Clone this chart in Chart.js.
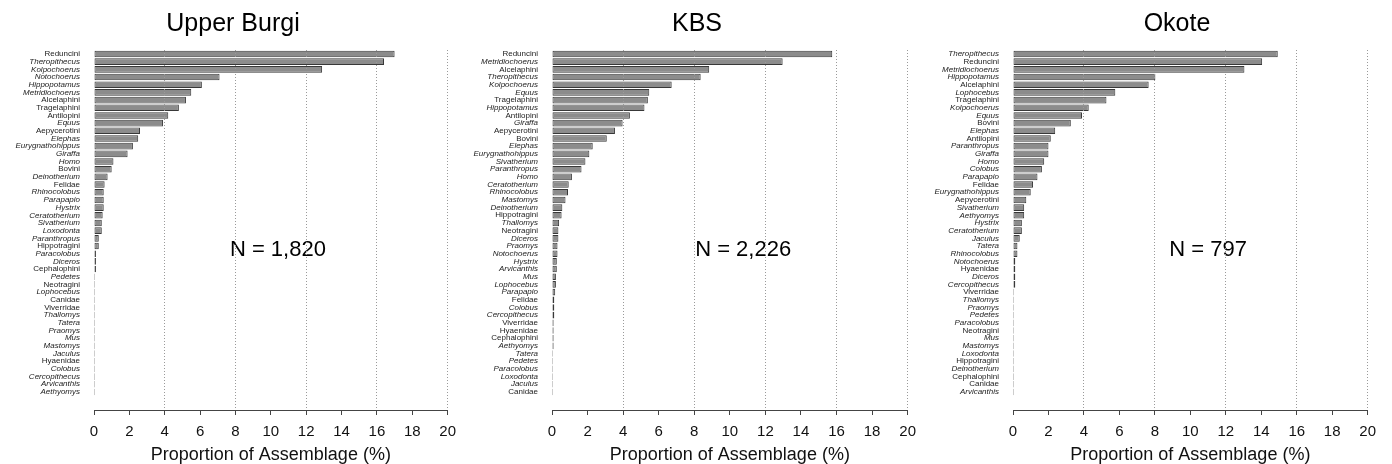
<!DOCTYPE html>
<html>
<head>
<meta charset="utf-8">
<title>Proportion of Assemblage</title>
<script src="https://cdn.jsdelivr.net/npm/chart.js@4.4.1/dist/chart.umd.min.js"></script>
<style>
  html, body { margin: 0; padding: 0; background: #fff; }
  body { width: 1392px; height: 464px; position: relative; overflow: hidden; }
  canvas { position: absolute; top: 0; }
</style>
</head>
<body>
<canvas id="burgi" width="464" height="464" style="left:0px"></canvas>
<canvas id="kbs" width="464" height="464" style="left:460px"></canvas>
<canvas id="okote" width="464" height="464" style="left:920px"></canvas>
<script>
// taxa in plotted order (top to bottom) and % of assemblage
const burgiTaxa = ['Reduncini', 'Theropithecus', 'Kolpochoerus', 'Notochoerus', 'Hippopotamus', 'Metridiochoerus',
  'Alcelaphini', 'Tragelaphini', 'Antilopini', 'Equus', 'Aepycerotini', 'Elephas', 'Eurygnathohippus', 'Giraffa',
  'Homo', 'Bovini', 'Deinotherium', 'Felidae', 'Rhinocolobus', 'Parapapio', 'Hystrix', 'Ceratotherium', 'Sivatherium',
  'Loxodonta', 'Paranthropus', 'Hippotragini', 'Paracolobus', 'Diceros', 'Cephalophini', 'Pedetes', 'Neotragini',
  'Lophocebus', 'Canidae', 'Viverridae', 'Thallomys', 'Tatera', 'Praomys', 'Mus', 'Mastomys', 'Jaculus', 'Hyaenidae',
  'Colobus', 'Cercopithecus', 'Arvicanthis', 'Aethyomys'];
const burgiValues = [17.0, 16.4, 12.9, 7.1, 6.1, 5.5, 5.2, 4.8, 4.2, 3.9, 2.6, 2.5, 2.2, 1.9,
  1.1, 1.0, 0.77, 0.6, 0.55, 0.55, 0.55, 0.49, 0.44,
  0.44, 0.27, 0.27, 0.11, 0.11, 0.11, 0.055, 0.055,
  0.055, 0.055, 0, 0, 0, 0, 0, 0, 0, 0,
  0, 0, 0, 0];

const kbsTaxa = ['Reduncini', 'Metridiochoerus', 'Alcelaphini', 'Theropithecus', 'Kolpochoerus', 'Equus',
  'Tragelaphini', 'Hippopotamus', 'Antilopini', 'Giraffa', 'Aepycerotini', 'Bovini', 'Elephas', 'Eurygnathohippus',
  'Sivatherium', 'Paranthropus', 'Homo', 'Ceratotherium', 'Rhinocolobus', 'Mastomys', 'Deinotherium', 'Hippotragini',
  'Thallomys', 'Neotragini', 'Diceros', 'Praomys', 'Notochoerus', 'Hystrix', 'Arvicanthis', 'Mus', 'Lophocebus',
  'Parapapio', 'Felidae', 'Colobus', 'Cercopithecus', 'Viverridae', 'Hyaenidae', 'Cephalophini', 'Aethyomys',
  'Tatera', 'Pedetes', 'Paracolobus', 'Loxodonta', 'Jaculus', 'Canidae'];
const kbsValues = [15.76, 12.97, 8.84, 8.36, 6.73, 5.47, 5.39, 5.2, 4.38, 3.97, 3.54, 3.08, 2.29, 2.1,
  1.88, 1.66, 1.12, 0.94, 0.9, 0.76, 0.58, 0.54,
  0.4, 0.36, 0.36, 0.31, 0.31, 0.27, 0.27, 0.22, 0.22,
  0.18, 0.13, 0.13, 0.13, 0.09, 0.09, 0.09, 0.09,
  0, 0, 0, 0, 0, 0];

const okoteTaxa = ['Theropithecus', 'Reduncini', 'Metridiochoerus', 'Hippopotamus', 'Alcelaphini', 'Lophocebus',
  'Tragelaphini', 'Kolpochoerus', 'Equus', 'Bovini', 'Elephas', 'Antilopini', 'Paranthropus', 'Giraffa', 'Homo',
  'Colobus', 'Parapapio', 'Felidae', 'Eurygnathohippus', 'Aepycerotini', 'Sivatherium', 'Aethyomys', 'Hystrix',
  'Ceratotherium', 'Jaculus', 'Tatera', 'Rhinocolobus', 'Notochoerus', 'Hyaenidae', 'Diceros', 'Cercopithecus',
  'Viverridae', 'Thallomys', 'Praomys', 'Pedetes', 'Paracolobus', 'Neotragini', 'Mus', 'Mastomys', 'Loxodonta',
  'Hippotragini', 'Deinotherium', 'Cephalophini', 'Canidae', 'Arvicanthis'];
const okoteValues = [14.93, 14.05, 13.05, 8.03, 7.65, 5.77, 5.27, 4.27, 3.89, 3.26, 2.38, 2.13, 2.0, 2.0, 1.76,
  1.63, 1.38, 1.13, 1.0, 0.75, 0.63, 0.63, 0.5,
  0.5, 0.38, 0.25, 0.25, 0.13, 0.13, 0.13, 0.13,
  0, 0, 0, 0, 0, 0, 0, 0, 0,
  0, 0, 0, 0, 0];

const burgiN = '1,820';
const kbsN = '2,226';
const okoteN = '797';

Chart.defaults.font.family = '"Liberation Sans", Arial, Helvetica, sans-serif';

// tribes and families upright, genera in italics
const isGroup = name => /(ini|idae)$/.test(name || '');

// panel title (not centred on the plot area) and the "N = ..." text
const panelText = {
  id: 'panelText',
  afterDatasetsDraw(chart, args, opts) {
    const {ctx, scales: {x, y}} = chart;
    ctx.save();
    ctx.fillStyle = '#000';
    ctx.textAlign = 'center';
    ctx.textBaseline = 'middle';
    ctx.font = '25px "Liberation Sans", Arial, sans-serif';
    ctx.fillText(opts.title, opts.titleX, 24);
    ctx.font = '22px "Liberation Sans", Arial, sans-serif';
    ctx.fillText(opts.n, x.getPixelForValue(opts.nx), y.getPixelForValue(opts.ny));
    ctx.restore();
  }
};

function makeChart(id, title, taxa, values, nText, nPos, pad) {
  return new Chart(document.getElementById(id), {
    type: 'bar',
    data: {
      datasets: [{
        data: values.map((v, i) => ({x: v, y: i})),
        backgroundColor: '#8c8c8c',
        borderColor: '#383838',
        borderWidth: 1,
        borderSkipped: false,
        barPercentage: 0.86,
        categoryPercentage: 1,
        minBarLength: 1
      }]
    },
    options: {
      indexAxis: 'y',
      responsive: false,
      animation: false,
      devicePixelRatio: 1,
      layout: {padding: {left: 0, right: pad.right, top: 50, bottom: 0}},
      plugins: {
        legend: {display: false},
        tooltip: {enabled: false},
        title: {display: false},
        panelText: {title: title, titleX: pad.titleX, n: 'N = ' + nText, nx: nPos[0], ny: nPos[1]}
      },
      scales: {
        x: {
          type: 'linear', min: 0, max: 20,
          ticks: {stepSize: 2, color: '#111', font: {size: 15}, padding: 8, maxRotation: 0, autoSkip: false},
          grid: {
            z: 1,
            color: c => (c.tick && c.tick.value > 0 && c.tick.value % 4 === 0) ? '#9a9a9a' : 'rgba(0,0,0,0)',
            lineWidth: 1,
            drawTicks: true,
            tickLength: 5,
            tickColor: '#444',
            tickWidth: 1
          },
          border: {display: true, z: 1, color: '#444', width: 1, dash: [1, 2]},
          title: {
            display: true, text: 'Proportion of Assemblage (%)', color: '#111',
            font: {size: 18, lineHeight: 1}, padding: {top: 0, bottom: 0}
          },
          afterFit: s => { s.height = 54; }
        },
        y: {
          type: 'linear', reverse: true, offset: false,
          min: -0.52, max: 46.35,
          afterBuildTicks: s => { s.ticks = taxa.map((_, i) => ({value: i})); },
          ticks: {
            autoSkip: false,
            padding: 14,
            color: '#222',
            callback: v => taxa[v],
            font: c => ({
              size: 8,
              family: '"Liberation Sans", Arial, sans-serif',
              style: isGroup(taxa[c.tick ? c.tick.value : c.index]) ? 'normal' : 'italic'
            })
          },
          grid: {display: false, drawTicks: false},
          border: {display: false},
          afterFit: s => { s.width = pad.yWidth; }
        }
      }
    },
    plugins: [panelText]
  });
}

makeChart('burgi', 'Upper Burgi', burgiTaxa, burgiValues, burgiN, [10.4, 25.5], {right: 13, yWidth: 94, titleX: 233});
makeChart('kbs', 'KBS', kbsTaxa, kbsValues, kbsN, [10.75, 25.5], {right: 15, yWidth: 92, titleX: 237});
makeChart('okote', 'Okote', okoteTaxa, okoteValues, okoteN, [11.0, 25.5], {right: 13, yWidth: 93, titleX: 257});
</script>
</body>
</html>
